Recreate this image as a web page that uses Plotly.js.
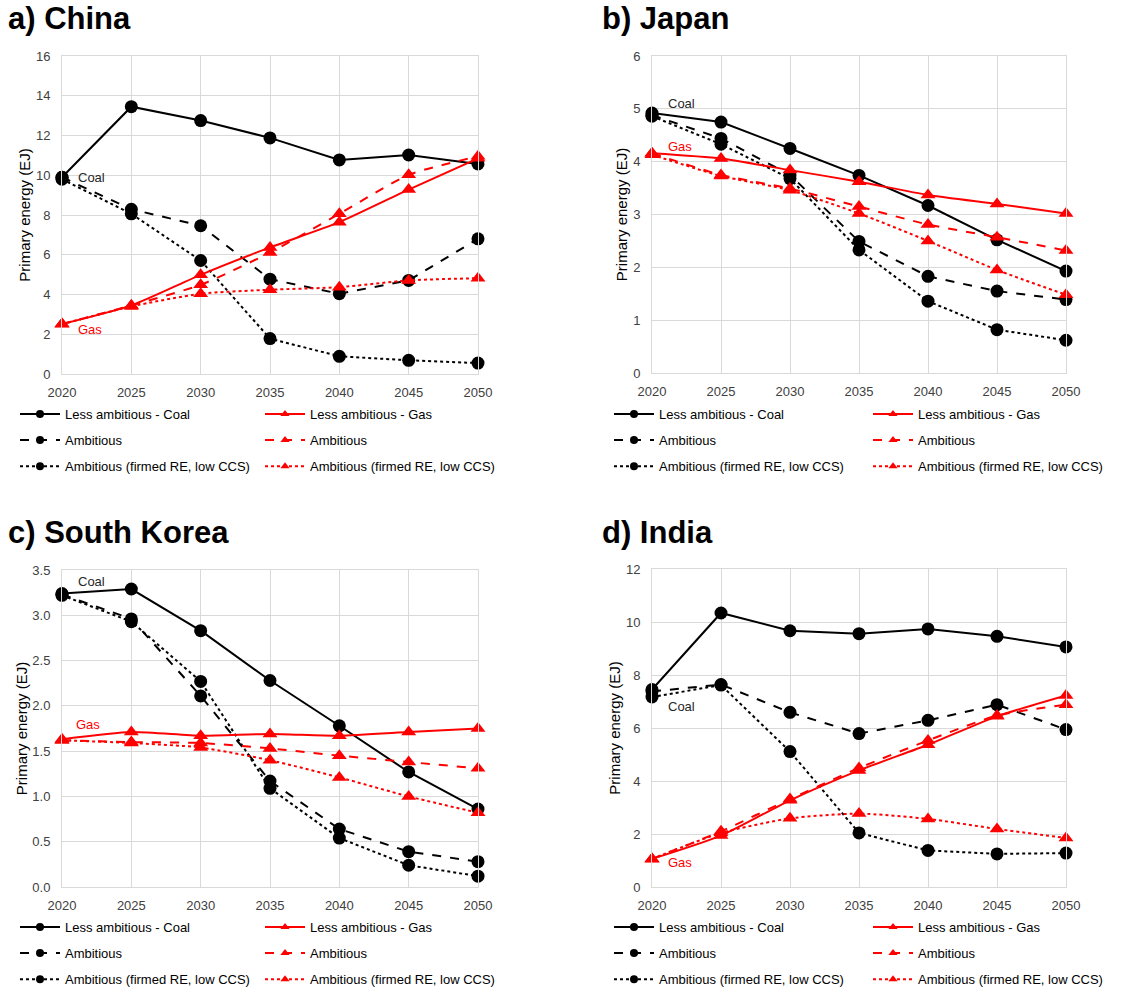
<!DOCTYPE html>
<html><head><meta charset="utf-8">
<script src="https://cdn.plot.ly/plotly-3.0.1.min.js"></script>
<style>body{margin:0;padding:0;background:#fff}#chart{width:1123px;height:992px}</style>
</head><body><div id="chart"></div><script>
// ---------- data ----------
const years = [2020, 2025, 2030, 2035, 2040, 2045, 2050];
const coalNames = ['Less ambitious - Coal', 'Ambitious', 'Ambitious (firmed RE, low CCS)'];
const gasNames  = ['Less ambitious - Gas',  'Ambitious', 'Ambitious (firmed RE, low CCS)'];
const panelTitles = ['a) China', 'b) Japan', 'c) South Korea', 'd) India'];
const yTitle = 'Primary energy (EJ)';

// China
const chinaCoalLess = [9.9, 13.45, 12.75, 11.88, 10.77, 11.02, 10.57];
const chinaCoalAmb  = [9.9, 8.29, 7.46, 4.77, 4.04, 4.71, 6.80];
const chinaCoalFirm = [9.8, 8.06, 5.71, 1.78, 0.89, 0.69, 0.55];
const chinaGasLess  = [2.51, 3.45, 4.99, 6.37, 7.64, 9.28, 10.85];
const chinaGasAmb   = [2.51, 3.45, 4.49, 6.11, 8.06, 10.02, 10.95];
const chinaGasFirm  = [2.51, 3.40, 4.04, 4.24, 4.37, 4.71, 4.82];
// Japan
const japanCoalLess = [4.92, 4.75, 4.25, 3.74, 3.17, 2.52, 1.93];
const japanCoalAmb  = [4.88, 4.44, 3.75, 2.49, 1.83, 1.55, 1.39];
const japanCoalFirm = [4.86, 4.33, 3.68, 2.33, 1.36, 0.82, 0.62];
const japanGasLess  = [4.16, 4.06, 3.84, 3.62, 3.37, 3.20, 3.02];
const japanGasAmb   = [4.16, 3.75, 3.49, 3.15, 2.81, 2.57, 2.32];
const japanGasFirm  = [4.13, 3.73, 3.46, 3.02, 2.50, 1.95, 1.48];
// South Korea
const koreaCoalLess = [3.24, 3.29, 2.83, 2.28, 1.78, 1.27, 0.86];
const koreaCoalAmb  = [3.23, 2.96, 2.11, 1.17, 0.64, 0.39, 0.28];
const koreaCoalFirm = [3.22, 2.93, 2.27, 1.09, 0.54, 0.24, 0.12];
const koreaGasLess  = [1.63, 1.71, 1.67, 1.69, 1.67, 1.71, 1.75];
const koreaGasAmb   = [1.62, 1.60, 1.59, 1.53, 1.45, 1.38, 1.31];
const koreaGasFirm  = [1.62, 1.59, 1.54, 1.40, 1.21, 1.00, 0.82];
// India
const indiaCoalLess = [7.45, 10.34, 9.67, 9.56, 9.74, 9.46, 9.06];
const indiaCoalAmb  = [7.38, 7.64, 6.59, 5.79, 6.29, 6.88, 5.94];
const indiaCoalFirm = [7.17, 7.62, 5.11, 2.04, 1.38, 1.25, 1.28];
const indiaGasLess  = [1.06, 1.94, 3.27, 4.40, 5.37, 6.44, 7.23];
const indiaGasAmb   = [1.06, 2.10, 3.32, 4.49, 5.53, 6.47, 6.88];
const indiaGasFirm  = [1.06, 2.04, 2.59, 2.77, 2.57, 2.19, 1.85];

const yMax  = [16, 6, 3.5, 12];
const yStep = [2, 1, 0.5, 2];
const yFmt  = ['d', 'd', '.1f', 'd'];

const coalSets = [
  [chinaCoalLess, chinaCoalAmb, chinaCoalFirm],
  [japanCoalLess, japanCoalAmb, japanCoalFirm],
  [koreaCoalLess, koreaCoalAmb, koreaCoalFirm],
  [indiaCoalLess, indiaCoalAmb, indiaCoalFirm]
];
const gasSets = [
  [chinaGasLess, chinaGasAmb, chinaGasFirm],
  [japanGasLess, japanGasAmb, japanGasFirm],
  [koreaGasLess, koreaGasAmb, koreaGasFirm],
  [indiaGasLess, indiaGasAmb, indiaGasFirm]
];

// label annotations (Coal / Gas) positions in data coords
const coalLabelPos = [[2021.0, 9.9], [2021.0, 5.11], [2021.0, 3.37], [2021.0, 6.83]];
const gasLabelPos  = [[2021.0, 2.26], [2021.0, 4.28], [2020.85, 1.79], [2021.0, 0.91]];

// ---------- layout geometry ----------
const W = 1123, H = 992;
const FONT = 'Liberation Sans, Arial, sans-serif';
const dashes = ['solid', 'dash', 'dot'];
const xDom = [[62 / W, 478 / W], [652 / W, 1066 / W], [62 / W, 478 / W], [652 / W, 1066 / W]];
const yDom = [[1 - 374 / H, 1 - 56 / H], [1 - 373 / H, 1 - 56 / H], [1 - 887 / H, 1 - 570 / H], [1 - 887 / H, 1 - 569 / H]];
const titlePos = [[6, 33], [600, 33], [6, 546.5], [600, 546.5]];
const legendCols = [[15, 260], [609, 868], [15, 260], [609, 868]];
const legendTop = [399, 399, 912, 912];
const legendGap = [6.2, 6.2, 6.2, 6.2];

const traces = [];
const legendTraces = [];
const layout = {
  width: W, height: H, autosize: false,
  margin: {l: 0, r: 0, t: 0, b: 0, autoexpand: false},
  paper_bgcolor: '#fff', plot_bgcolor: '#fff',
  font: {family: FONT, size: 13, color: '#000'},
  annotations: [], hovermode: false
};

for (let p = 0; p < 4; p++) {
  const sx = p === 0 ? '' : String(p + 1);
  const xa = 'x' + sx, ya = 'y' + sx;
  const legC = p === 0 ? 'legend' : 'legend' + (2 * p + 1);
  const legG = 'legend' + (2 * p + 2);
  const groups = [
    {sets: coalSets[p], names: coalNames, color: '#000000', sym: 'circle', leg: legC, spline: false, key: 'c'},
    {sets: gasSets[p], names: gasNames, color: '#ff0000', sym: 'triangle-up', leg: legG, spline: true, key: 'g'}
  ];
  for (const g of groups) {
    for (let s = 0; s < 3; s++) {
      const line = {color: g.color, width: 2, dash: dashes[s]};
      if (g.spline) { line.shape = 'spline'; line.smoothing = 0.6; }
      traces.push({
        x: years, y: g.sets[s], xaxis: xa, yaxis: ya, type: 'scatter', mode: 'lines+markers',
        name: g.names[s], showlegend: false,
        line: line, marker: {symbol: g.sym, size: 13, color: g.color},
        cliponaxis: false
      });
      // legend-only entry (smaller marker in the key, as in the original figure)
      legendTraces.push({
        x: [null], y: [null], xaxis: xa, yaxis: ya, type: 'scatter', mode: 'lines+markers',
        name: g.names[s], legend: g.leg, legendgroup: g.key + p + s, showlegend: true,
        line: {color: g.color, width: 2, dash: dashes[s]},
        marker: {symbol: g.sym, size: 8, color: g.color}
      });
    }
  }
  const axName = p === 0 ? '' : String(p + 1);
  layout['xaxis' + axName] = {
    domain: xDom[p], anchor: ya, range: [2020, 2050], tickvals: years,
    showgrid: true, gridcolor: '#d9d9d9', gridwidth: 1,
    showline: true, linecolor: '#d9d9d9', linewidth: 1, mirror: true,
    zeroline: false, ticks: '', ticklabelstandoff: 6,
    tickfont: {family: FONT, size: 13, color: '#404040'}, fixedrange: true
  };
  layout['yaxis' + axName] = {
    domain: yDom[p], anchor: xa, range: [0, yMax[p]], dtick: yStep[p], tick0: 0, tickformat: yFmt[p],
    showgrid: true, gridcolor: '#d9d9d9', gridwidth: 1,
    showline: true, linecolor: '#d9d9d9', linewidth: 1, mirror: true,
    zeroline: false, ticks: '', ticklabelstandoff: 8,
    tickfont: {family: FONT, size: 13, color: '#404040'}, fixedrange: true,
    title: {text: yTitle, font: {family: FONT, size: 15, color: '#000'}, standoff: 1}
  };
  // legends
  const lg = {
    orientation: 'v', xanchor: 'left', yanchor: 'top', yref: 'paper', xref: 'paper',
    y: 1 - legendTop[p] / H, bgcolor: 'rgba(0,0,0,0)', borderwidth: 0,
    font: {family: FONT, size: 13, color: '#000'}, tracegroupgap: legendGap[p], itemwidth: 40,
    itemclick: false, itemdoubleclick: false
  };
  layout[legC] = Object.assign({}, lg, {x: legendCols[p][0] / W});
  layout[legG] = Object.assign({}, lg, {x: legendCols[p][1] / W});
  // panel title
  layout.annotations.push({
    xref: 'paper', yref: 'paper', x: titlePos[p][0] / W, y: 1 - titlePos[p][1] / H,
    xanchor: 'left', yanchor: 'bottom', yshift: -5.5, showarrow: false, text: panelTitles[p],
    font: {family: FONT, size: 31, color: '#000', weight: 'bold'}
  });
  layout.annotations.push({
    xref: xa, yref: ya, x: coalLabelPos[p][0], y: coalLabelPos[p][1], xanchor: 'left', yanchor: 'middle',
    showarrow: false, text: 'Coal', font: {family: FONT, size: 13, color: '#262626'}
  });
  layout.annotations.push({
    xref: xa, yref: ya, x: gasLabelPos[p][0], y: gasLabelPos[p][1], xanchor: 'left', yanchor: 'middle',
    showarrow: false, text: 'Gas', font: {family: FONT, size: 13, color: '#ff0000'}
  });
}

Plotly.newPlot('chart', traces.concat(legendTraces), layout, {staticPlot: true, displayModeBar: false});
</script></body></html>
